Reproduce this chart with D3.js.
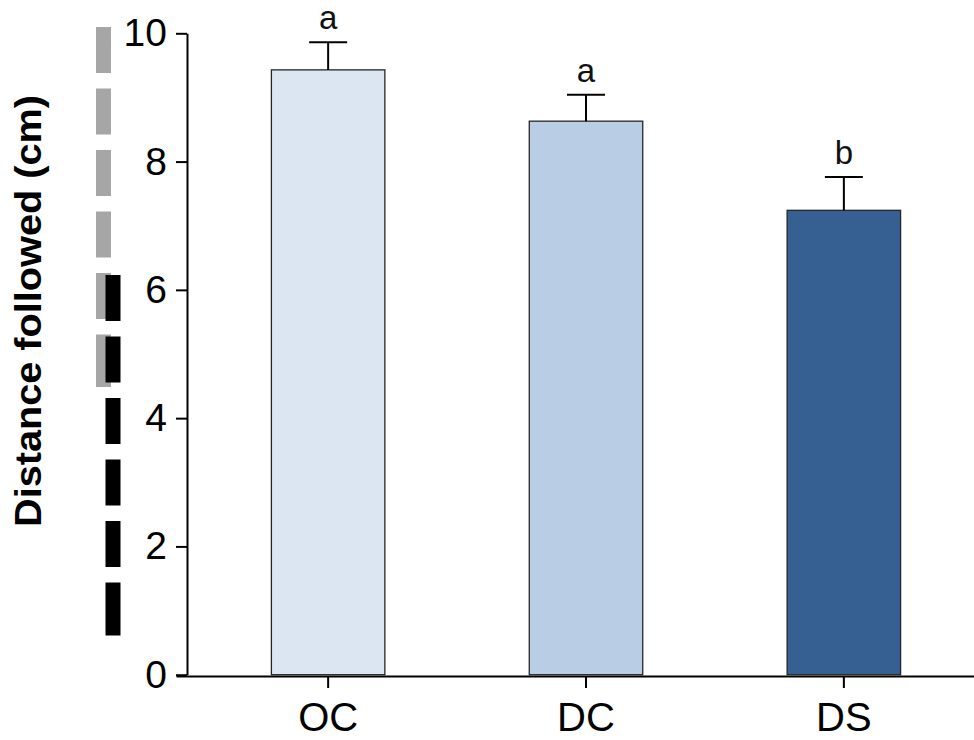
<!DOCTYPE html>
<html>
<head>
<meta charset="utf-8">
<script src="https://cdn.jsdelivr.net/npm/d3@7/dist/d3.min.js"></script>
<style>
  html, body { margin: 0; padding: 0; background: #fff; }
  svg { display: block; font-family: "Liberation Sans", Arial, sans-serif; }
</style>
</head>
<body>
<svg id="chart" width="974" height="740"></svg>
<script>
// Treatment groups, mean distance followed and standard error
const categories = ["OC", "DC", "DS"];
const means = [9.43, 8.63, 7.24];
const errors = [0.43, 0.41, 0.52];
const groupLetters = ["a", "a", "b"];
const yTicks = [0, 2, 4, 6, 8, 10];
const barColors = ["#dce6f2", "#b9cde5", "#366092"];

const svg = d3.select("#chart");

const y = d3.scaleLinear().domain([0, 10]).range([674.7, 33.3]);
const x = d3.scaleBand()
  .domain(categories)
  .range([176, 996])
  .paddingInner(0.56)
  .paddingOuter(0.37);

// Decorative dashed strokes beside the axis title (last dash is a little longer)
const dashPattern = "46 15.5 46 15.5 46 15.5 46 15.5 46 15.5 53 200";
svg.append("line")
  .attr("x1", 103.5).attr("x2", 103.5)
  .attr("y1", 27).attr("y2", 387)
  .attr("stroke", "#a6a6a6").attr("stroke-width", 15)
  .attr("stroke-dasharray", dashPattern);
svg.append("line")
  .attr("x1", 113).attr("x2", 113)
  .attr("y1", 275).attr("y2", 636)
  .attr("stroke", "#000").attr("stroke-width", 15)
  .attr("stroke-dasharray", dashPattern);

// Bars
const data = categories.map((c, i) => ({ c, m: means[i], e: errors[i], l: groupLetters[i], col: barColors[i] }));

svg.append("g").selectAll("rect").data(data).join("rect")
  .attr("x", d => x(d.c))
  .attr("width", x.bandwidth())
  .attr("y", d => y(d.m))
  .attr("height", d => y(0) - y(d.m))
  .attr("fill", d => d.col)
  .attr("stroke", "#262626")
  .attr("stroke-width", 1.3);

// Error bars (upper half only)
const eb = svg.append("g").attr("stroke", "#000").attr("stroke-width", 2);
eb.selectAll("line.v").data(data).join("line").attr("class", "v")
  .attr("x1", d => x(d.c) + x.bandwidth() / 2)
  .attr("x2", d => x(d.c) + x.bandwidth() / 2)
  .attr("y1", d => y(d.m))
  .attr("y2", d => y(d.m + d.e));
eb.selectAll("line.cap").data(data).join("line").attr("class", "cap")
  .attr("x1", d => x(d.c) + x.bandwidth() / 2 - 19)
  .attr("x2", d => x(d.c) + x.bandwidth() / 2 + 19)
  .attr("y1", d => y(d.m + d.e))
  .attr("y2", d => y(d.m + d.e));

// Significance letters
svg.append("g").selectAll("text").data(data).join("text")
  .attr("x", d => x(d.c) + x.bandwidth() / 2)
  .attr("y", d => y(d.m + d.e) - 13)
  .attr("text-anchor", "middle")
  .attr("font-size", 33)
  .attr("fill", "#111")
  .text(d => d.l);

// Y axis
const yAxis = svg.append("g")
  .attr("transform", "translate(187,0)")
  .call(d3.axisLeft(y).tickValues(yTicks).tickFormat(d3.format("d")).tickSize(11).tickSizeOuter(0).tickPadding(9));
yAxis.select(".domain").attr("stroke", "#000").attr("stroke-width", 2);
yAxis.selectAll(".tick line").attr("stroke", "#000").attr("stroke-width", 2);
yAxis.selectAll(".tick text").attr("font-size", 39).attr("fill", "#000")
  .attr("font-family", "'Liberation Sans', Arial, sans-serif");

// X axis
const xAxis = svg.append("g")
  .attr("transform", "translate(0,676)")
  .call(d3.axisBottom(x).tickSize(12).tickSizeOuter(0).tickPadding(15));
xAxis.select(".domain").attr("stroke", "#000").attr("stroke-width", 2);
xAxis.selectAll(".tick line").attr("stroke", "#000").attr("stroke-width", 2);
xAxis.selectAll(".tick text").attr("font-size", 40).attr("fill", "#000")
  .attr("font-family", "'Liberation Sans', Arial, sans-serif");

// Y axis title
svg.append("text")
  .attr("transform", "translate(41,311) rotate(-90)")
  .attr("text-anchor", "middle")
  .attr("font-size", 36)
  .attr("font-weight", "bold")
  .attr("fill", "#000")
  .attr("textLength", 432)
  .attr("lengthAdjust", "spacingAndGlyphs")
  .text("Distance followed (cm)");
</script>
</body>
</html>
